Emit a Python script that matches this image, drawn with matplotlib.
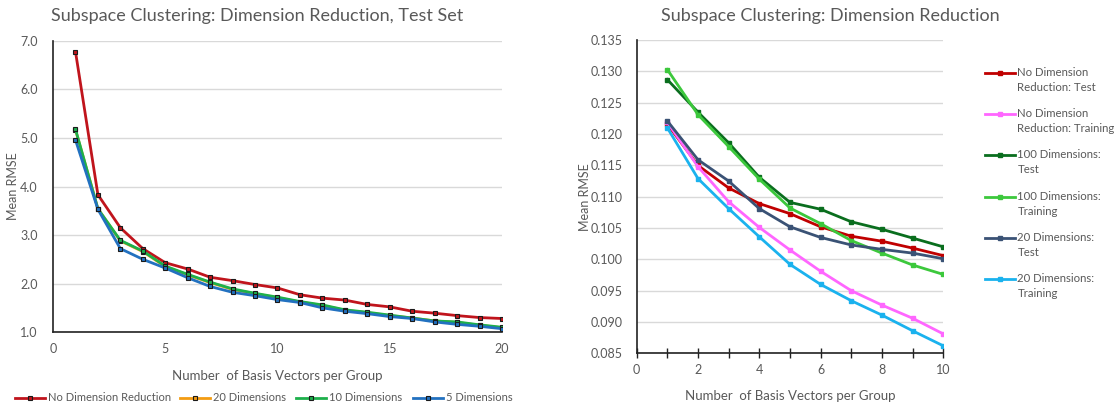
import matplotlib
matplotlib.use("Agg")
import matplotlib.pyplot as plt
from matplotlib.legend_handler import HandlerLine2D
import numpy as np

plt.rcParams['font.family'] = ['Lato', 'DejaVu Sans']

# ---- Left chart data ----
basis_left = list(range(1, 21))
no_dim_red = [6.78, 3.83, 3.15, 2.72, 2.43, 2.30, 2.13, 2.06, 1.98, 1.91,
              1.77, 1.70, 1.66, 1.57, 1.52, 1.43, 1.39, 1.34, 1.30, 1.28]
dim20 = [5.17, 3.54, 2.88, 2.66, 2.35, 2.18, 2.02, 1.88, 1.79, 1.71,
         1.62, 1.55, 1.45, 1.40, 1.34, 1.29, 1.23, 1.20, 1.14, 1.09]
dim10 = [5.18, 3.54, 2.89, 2.67, 2.36, 2.19, 2.03, 1.89, 1.80, 1.72,
         1.63, 1.56, 1.46, 1.41, 1.35, 1.29, 1.23, 1.21, 1.15, 1.10]
dim5 = [4.96, 3.53, 2.72, 2.50, 2.32, 2.12, 1.94, 1.82, 1.75, 1.67,
        1.61, 1.50, 1.43, 1.38, 1.32, 1.28, 1.21, 1.16, 1.12, 1.07]
left_labels = ["No Dimension Reduction", "20 Dimensions", "10 Dimensions", "5 Dimensions"]
left_yticks = [1.0, 2.0, 3.0, 4.0, 5.0, 6.0, 7.0]
left_xticks = [0, 5, 10, 15, 20]

# ---- Right chart data ----
basis_right = list(range(1, 11))
ndr_test = [0.1216, 0.1150, 0.1114, 0.1089, 0.1073, 0.1052, 0.1037, 0.1029, 0.1018, 0.1006]
ndr_train = [0.1219, 0.1148, 0.1092, 0.1051, 0.1015, 0.0981, 0.0950, 0.0927, 0.0906, 0.0881]
d100_test = [0.1287, 0.1235, 0.1186, 0.1131, 0.1091, 0.1080, 0.1060, 0.1048, 0.1034, 0.1020]
d100_train = [0.1303, 0.1231, 0.1180, 0.1128, 0.1082, 0.1057, 0.1030, 0.1010, 0.0991, 0.0976]
d20_test = [0.1221, 0.1159, 0.1125, 0.1081, 0.1052, 0.1035, 0.1023, 0.1016, 0.1010, 0.1001]
d20_train = [0.1210, 0.1129, 0.1081, 0.1036, 0.0992, 0.0960, 0.0934, 0.0911, 0.0886, 0.0862]
right_labels = ["No Dimension\nReduction: Test", "No Dimension\nReduction: Training",
                "100 Dimensions:\nTest", "100 Dimensions:\nTraining",
                "20 Dimensions:\nTest", "20 Dimensions:\nTraining"]
right_yticks = [0.085, 0.090, 0.095, 0.100, 0.105, 0.110, 0.115, 0.120, 0.125, 0.130, 0.135]
right_xticks = [0, 2, 4, 6, 8, 10]

TXT = "#595959"
GRID = "#D9D9D9"


class TopHandler(HandlerLine2D):
    """Legend handle raised to line up with the first line of a two-line label."""
    def __init__(self, offset=5.5, **kw):
        super().__init__(**kw)
        self.offset = offset

    def create_artists(self, legend, orig_handle, xdescent, ydescent, width,
                       height, fontsize, trans):
        arts = super().create_artists(legend, orig_handle, xdescent, ydescent,
                                      width, height, fontsize, trans)
        for a in arts:
            a.set_ydata(np.asarray(a.get_ydata()) + self.offset)
        return arts


W, H = 1114, 409
fig = plt.figure(figsize=(W / 100, H / 100), dpi=100)

# ---- Left axes ----
axL = fig.add_axes([0.0476, 0.188, 0.403, 0.712])
left_series = [no_dim_red, dim20, dim10, dim5]
left_colors = ["#C0141C", "#F39C12", "#1DB04B", "#2271C0"]
for ys, c, lab in zip(left_series, left_colors, left_labels):
    axL.plot(basis_left, ys, color=c, lw=2, marker="s", ms=3.2,
             mfc=c, mec="#1a1a1a", mew=0.8, label=lab)
axL.set_xlim(0, 20)
axL.set_ylim(1.0, 7.0)
axL.set_xticks(left_xticks)
axL.set_yticks(left_yticks)
axL.set_yticklabels([f"{v:.1f}" for v in left_yticks])
axL.grid(axis="y", color=GRID, lw=1)
axL.set_axisbelow(True)
for s in ["top", "right"]:
    axL.spines[s].set_visible(False)
for s in ["left", "bottom"]:
    axL.spines[s].set_color("#222222")
    axL.spines[s].set_linewidth(1.2)
axL.tick_params(axis="y", length=0, labelsize=9, labelcolor=TXT, pad=11)
axL.tick_params(axis="x", length=0, labelsize=9, labelcolor=TXT, pad=8)
axL.set_xlabel("Number  of Basis Vectors per Group", fontsize=9.5, color=TXT, labelpad=11)
axL.set_ylabel("Mean RMSE", fontsize=9, color=TXT, labelpad=0.5)
axL.set_title("Subspace Clustering: Dimension Reduction, Test Set", fontsize=13,
              color=TXT, pad=14, x=0.455)

# bottom legend: one entry per slot, placed like the reference
hL, lL = axL.get_legend_handles_labels()
slot_x = [15, 180, 296, 413]
for hh, ll, sx in zip(hL, lL, slot_x):
    fig.legend([hh], [ll], loc="center left", bbox_to_anchor=(sx / W, 0.027),
               frameon=False, fontsize=8, labelcolor=TXT, handlelength=2.7,
               handletextpad=0.28, borderpad=0.0, borderaxespad=0.0)

# ---- Right axes ----
axR = fig.add_axes([0.5715, 0.136, 0.2753, 0.766])
right_series = [ndr_test, ndr_train, d100_test, d100_train, d20_test, d20_train]
right_colors = ["#C00000", "#FF66FF", "#0A6E1E", "#3CC83C", "#3A5275", "#1AB2EE"]
for ys, c, lab in zip(right_series, right_colors, right_labels):
    axR.plot(basis_right, ys, color=c, lw=2, marker="s", ms=3.2,
             mfc=c, mec=c, label=lab)
axR.set_xlim(0, 10)
axR.set_ylim(0.085, 0.135)
axR.set_xticks(right_xticks)
axR.set_xticks(list(range(0, 11)), minor=True)
axR.set_yticks(right_yticks)
axR.set_yticklabels([f"{v:.3f}" for v in right_yticks])
axR.grid(axis="y", color=GRID, lw=1)
axR.set_axisbelow(True)
for s in ["top", "right"]:
    axR.spines[s].set_visible(False)
for s in ["left", "bottom"]:
    axR.spines[s].set_color("#222222")
    axR.spines[s].set_linewidth(1.2)
axR.tick_params(axis="y", length=0, labelsize=9, labelcolor=TXT, pad=10)
axR.tick_params(axis="x", which="both", direction="inout", length=7, width=1,
                color="#222222", labelsize=9, labelcolor=TXT, pad=4)
axR.set_xlabel("Number  of Basis Vectors per Group", fontsize=9.5, color=TXT, labelpad=10)
axR.set_ylabel("Mean RMSE", fontsize=9, color=TXT, labelpad=0)
axR.set_title("Subspace Clustering: Dimension Reduction", fontsize=13,
              color=TXT, pad=14, x=0.63)
h, l = axR.get_legend_handles_labels()
legR = fig.legend(h, l, loc="upper left", bbox_to_anchor=(985 / W, 1 - 67 / H),
                  frameon=False, fontsize=8.2, labelcolor=TXT, handlelength=2.6,
                  handletextpad=0.25, borderpad=0.0, borderaxespad=0.0,
                  labelspacing=1.32,
                  handler_map={type(h[0]): TopHandler(offset=5.4)})
for t in legR.get_texts():
    t.set_linespacing(1.46)

fig.savefig("out.png", dpi=100)
